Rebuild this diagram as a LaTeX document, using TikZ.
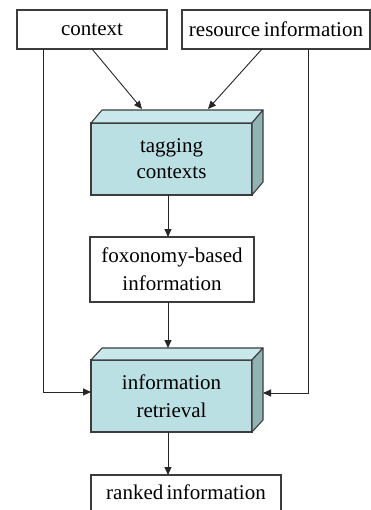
\documentclass[tikz,border=0pt]{standalone}
\usepackage{fontspec}
\setmainfont{Liberation Serif}
\usetikzlibrary{arrows.meta,calc}
\definecolor{frontc}{RGB}{186,224,228}
\definecolor{topc}{RGB}{200,232,235}
\definecolor{sidec}{RGB}{147,178,180}
\definecolor{edgec}{RGB}{60,60,60}
\begin{document}
\begin{tikzpicture}[x=1pt,y=1pt,
  font=\fontsize{21}{28}\selectfont,
  plainbox/.style={draw=edgec, line width=1.1pt, fill=white, inner sep=0pt, outer sep=0pt, align=center},
  frontbox/.style={draw=edgec, line width=1.1pt, fill=frontc, inner sep=0pt, outer sep=0pt, align=center, minimum width=161pt, minimum height=72pt},
  face/.style={draw=edgec, line width=1.1pt, line join=round},
  arr/.style={draw=black!85, line width=0.9pt, -{Triangle[length=8pt,width=7pt]}},
  conn/.style={draw=black!85, line width=0.9pt}
]
\useasboundingbox (0,0) rectangle (371,-510);

% plain boxes
\node[plainbox, minimum width=150pt, minimum height=39pt] (ctx) at (92,-29.5) {context};
\node[plainbox, minimum width=188pt, minimum height=39pt] (res) at (276,-29.5) {resource\hspace{-1.5pt} information};
\node[plainbox, minimum width=164pt, minimum height=65pt] (fox) at (172,-269.5) {foxonomy-based\\information};
\node[plainbox, minimum width=190pt, minimum height=40pt] (rank) at (186,-495) {\raisebox{6pt}{ranked\hspace{-2pt} information}};

% 3D boxes
\node[frontbox] (tag) at (171.5,-159) {\raisebox{-2pt}{tagging}\\contexts};
\fill[topc] (tag.north west) -- ++(11,13) -- ($(tag.north east)+(11,13)$) -- (tag.north east) -- cycle;
\draw[face] (tag.north west) -- ++(11,13) -- ($(tag.north east)+(11,13)$) -- (tag.north east) -- cycle;
\fill[sidec] (tag.north east) -- ++(11,13) -- ($(tag.south east)+(11,13)$) -- (tag.south east) -- cycle;
\draw[face] (tag.north east) -- ++(11,13) -- ($(tag.south east)+(11,13)$) -- (tag.south east) -- cycle;

\node[frontbox] (ir) at (171.5,-396) {information\\retrieval};
\fill[topc] (ir.north west) -- ++(11,12) -- ($(ir.north east)+(11,12)$) -- (ir.north east) -- cycle;
\draw[face] (ir.north west) -- ++(11,12) -- ($(ir.north east)+(11,12)$) -- (ir.north east) -- cycle;
\fill[sidec] (ir.north east) -- ++(11,12) -- ($(ir.south east)+(11,12)$) -- (ir.south east) -- cycle;
\draw[face] (ir.north east) -- ++(11,12) -- ($(ir.south east)+(11,12)$) -- (ir.south east) -- cycle;

% connection points
\coordinate (tagA) at (142,-109);
\coordinate (tagB) at (208,-109);
\coordinate (ctxL) at (43,-49);
\coordinate (resR) at (308,-49);
\coordinate (irL) at (ir.west |- 0,-392);
\coordinate (irR) at (263,-393);
\coordinate (tagS) at (168,-195);
\coordinate (foxN) at (168,-237);
\coordinate (foxS) at (168,-302);
\coordinate (irN) at (168,-348);
\coordinate (irS) at (168,-432);
\coordinate (rankN) at (168,-475);

% connectors
\draw[arr] (ctx.south) -- (tagA);
\draw[arr] (res.south -| 262,0) -- (tagB);
\draw[arr] (ctxL) -- (ctxL |- irL) -- (irL);
\draw[arr] (resR) -- (resR |- irR) -- (irR);
\draw[arr] (tagS) -- (foxN);
\draw[arr] (foxS) -- (irN);
\draw[arr] (irS) -- (rankN);
\end{tikzpicture}
\end{document}
